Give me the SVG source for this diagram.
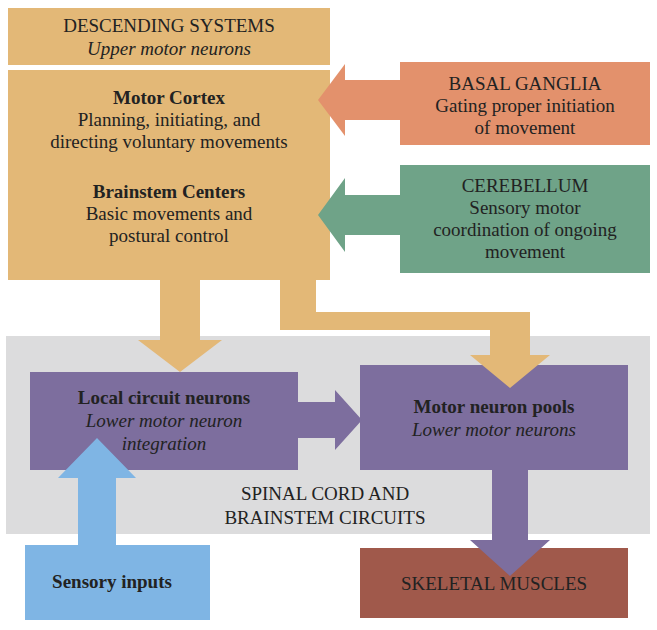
<svg xmlns="http://www.w3.org/2000/svg" width="657" height="630" viewBox="0 0 657 630">
<style>
text{font-family:"Liberation Serif","DejaVu Serif",serif;font-size:19px;fill:#222;text-anchor:middle}
.b{font-weight:bold}.i{font-style:italic}
.tan{fill:#E3B877}.pur{fill:#7D6E9E}
</style>
<rect x="0" y="0" width="657" height="630" fill="#fff"/>
<rect x="6" y="336" width="644" height="198" fill="#DCDCDD"/>
<g id="descending"><rect class="tan" x="8" y="8" width="322" height="57"/>
<text x="169" y="32">DESCENDING SYSTEMS</text><text class="i" x="169" y="55">Upper motor neurons</text></g>
<g id="cortex"><rect class="tan" x="8" y="70" width="322" height="210"/>
<text class="b" x="169" y="104">Motor Cortex</text><text x="169" y="126">Planning, initiating, and</text><text x="169" y="148">directing voluntary movements</text>
<text class="b" x="169" y="198">Brainstem Centers</text><text x="169" y="220">Basic movements and</text><text x="169" y="242">postural control</text></g>
<g id="basal"><rect fill="#E3916C" x="400" y="62" width="250" height="83"/>
<text x="525" y="90">BASAL GANGLIA</text><text x="525" y="112">Gating proper initiation</text><text x="525" y="134">of movement</text></g>
<g id="cerebellum"><rect fill="#6FA388" x="400" y="165" width="250" height="108"/>
<text x="525" y="192">CEREBELLUM</text><text x="525" y="214">Sensory motor</text><text x="525" y="236">coordination of ongoing</text><text x="525" y="258">movement</text></g>
<g id="local"><rect class="pur" x="30" y="372" width="268" height="98"/>
<text class="b" x="164" y="404">Local circuit neurons</text><text class="i" x="164" y="427">Lower motor neuron</text><text class="i" x="164" y="450">integration</text></g>
<g id="pools"><rect class="pur" x="360" y="365" width="268" height="105"/>
<text class="b" x="494" y="413">Motor neuron pools</text><text class="i" x="494" y="436">Lower motor neurons</text></g>
<g id="spinal"><text x="325" y="500">SPINAL CORD AND</text><text x="325" y="524">BRAINSTEM CIRCUITS</text></g>
<g id="sensory"><rect fill="#7FB5E4" x="25" y="545" width="185" height="75"/>
<text class="b" x="112" y="588">Sensory inputs</text></g>
<g id="muscles"><rect fill="#A0594B" x="360" y="548" width="268" height="70"/>
<text x="494" y="590">SKELETAL MUSCLES</text></g>
<g id="connectors">
<polygon class="tan" points="160,280 200,280 200,340 222,340 180,372 138,340 160,340"/>
<polygon class="tan" points="280,280 316,280 316,312 530,312 530,355 550,355 510,388 470,355 490,355 490,330 280,330"/>
<polygon fill="#E3916C" points="400,80 345,80 345,64 318,100 345,136 345,120 400,120"/>
<polygon fill="#6FA388" points="400,195 345,195 345,178 318,215 345,252 345,235 400,235"/>
<polygon class="pur" points="298,402 335,402 335,390 362,420 335,450 335,438 298,438"/>
<polygon fill="#7FB5E4" points="78,545 78,478 58,478 97,438 136,478 116,478 116,545"/>
<polygon class="pur" points="492,470 528,470 528,540 550,540 510,576 470,540 492,540"/>
</g>
</svg>
